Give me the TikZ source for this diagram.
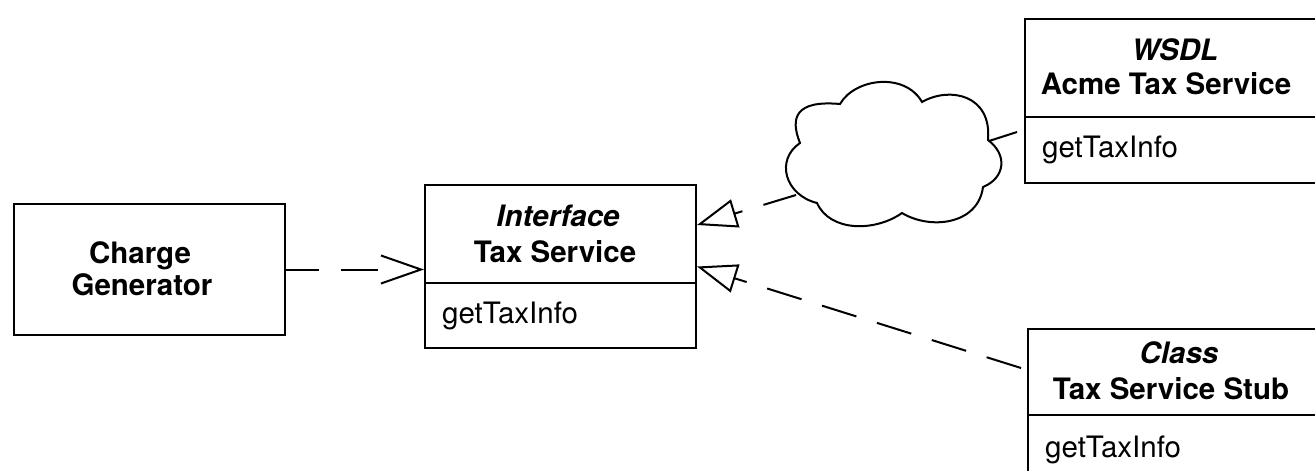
\documentclass[tikz,border=0pt]{standalone}
\usepackage{fontspec}
\setmainfont{TeX Gyre Heros}
\usetikzlibrary{arrows.meta}
\tikzset{
  box/.style={draw, line width=2pt, inner sep=0pt},
  conn/.style={line width=2pt},
  title/.style={anchor=base, inner sep=0pt, font=\fontsize{29.5}{35}\selectfont\bfseries},
  stereo/.style={anchor=base, inner sep=0pt, font=\fontsize{29.5}{35}\selectfont\bfseries\itshape},
  member/.style={anchor=base west, inner sep=0pt, font=\fontsize{29.5}{35}\selectfont},
  realize/.style={conn, -{Triangle[open, length=40pt, width=29pt]}},
}
\begin{document}
\begin{tikzpicture}[x=1pt,y=-1pt]
\useasboundingbox (0,0) rectangle (1315,471);

% Charge Generator
\node[box, minimum width=271pt, minimum height=131pt] (cg) at (149.5,269.5) {};
\node[title] (cgt1) at (140,263) {Charge};
\node[title] (cgt2) at (142,295) {Generator};

% Interface Tax Service
\node[box, minimum width=271pt, minimum height=163pt] (iface) at (560.5,266.5) {};
\draw[conn] (iface.west |- 0,283) -- (iface.east |- 0,283);
\node[stereo] (ift1) at (558,226) {Interface};
\node[title] (ift2) at (555,262) {Tax Service};
\node[member] (ifm) at (442,323) {getTaxInfo};

% WSDL Acme Tax Service
\node[box, minimum width=291pt, minimum height=164pt] (wsdl) at (1170.5,101) {};
\draw[conn] (wsdl.west |- 0,117) -- (wsdl.east |- 0,117);
\node[stereo] (wt1) at (1175,60) {WSDL};
\node[title] (wt2) at (1166,94) {Acme Tax Service};
\node[member] (wm) at (1042,157) {getTaxInfo};

% Class Tax Service Stub
\node[box, minimum width=288pt, minimum height=152pt] (stub) at (1172,405) {};
\draw[conn] (stub.west |- 0,415) -- (stub.east |- 0,415);
\node[stereo] (st1) at (1179,363) {Class};
\node[title] (st2) at (1171,399) {Tax Service Stub};
\node[member] (sm) at (1045,457) {getTaxInfo};

% Cloud
\draw[conn] (800,143) .. controls (790,118) and (795,100) .. (840,104)
  .. controls (855,78) and (905,72) .. (922,102)
  .. controls (950,86) and (992,95) .. (988,140)
  .. controls (1008,155) and (1005,178) .. (983,187)
  .. controls (978,225) and (930,230) .. (902,213)
  .. controls (875,232) and (830,232) .. (817,203)
  .. controls (785,195) and (775,160) .. (800,143) -- cycle;
\coordinate (cloudL) at (796,195);
\coordinate (cloudR) at (989,141);

% connector end points
\coordinate (ia) at ([yshift=41.5pt]iface.east);
\coordinate (wa) at ([shift={(-7pt,-31pt)}]wsdl.west);
\coordinate (sa) at ([shift={(-6pt,37pt)}]stub.west);

% Connectors
\draw[conn, dash pattern=on 33pt off 22pt on 37pt off 60pt,
      -{Straight Barb[length=40pt, width=28pt]}] (cg.east) -- (cg.east -| iface.west);
\draw[realize, dash pattern=on 34pt off 22pt] (cloudL) -- (ia);
\draw[realize, dash pattern=on 36pt off 21.5pt] (sa) -- (iface.east);
\draw[conn] (cloudR) -- (wa);
\end{tikzpicture}
\end{document}
